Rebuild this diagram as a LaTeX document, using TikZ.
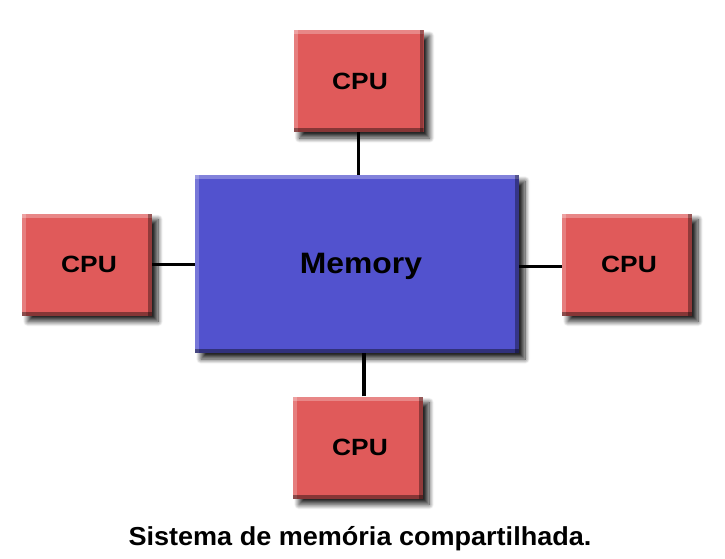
\documentclass[tikz,border=0pt]{standalone}
\usepackage{fontspec}
\setmainfont{Liberation Sans}
\usetikzlibrary{shadows.blur}
\definecolor{cpured}{HTML}{E05A5A}
\definecolor{memblue}{HTML}{5252CE}
\newcommand{\cpuword}{\scalebox{1.12}[1]{CPU}}
\tikzset{
  bevel/.style={path picture={
    \fill[white,opacity=0.28] (path picture bounding box.north west) rectangle ([yshift=-4pt]path picture bounding box.north east);
    \fill[white,opacity=0.22] (path picture bounding box.north west) rectangle ([xshift=4pt]path picture bounding box.south west);
    \fill[black,opacity=0.4] (path picture bounding box.south west) rectangle ([yshift=4pt]path picture bounding box.south east);
    \fill[black,opacity=0.35] (path picture bounding box.north east) rectangle ([xshift=-4pt]path picture bounding box.south east);
  }},
  box/.style={rectangle, inner sep=0pt, bevel,
    blur shadow={shadow xshift=6pt, shadow yshift=-6pt, shadow blur steps=10, shadow blur radius=5pt, shadow opacity=85}},
  cpubox/.style={box, fill=cpured, minimum width=130pt, minimum height=102pt},
  membox/.style={box, fill=memblue, minimum width=324pt, minimum height=178pt},
  cpulabel/.style={inner sep=0pt, font=\bfseries\fontsize{23.5}{28}\selectfont},
  memlabel/.style={inner sep=0pt, font=\bfseries\fontsize{29.5}{34}\selectfont},
  link/.style={line width=3.2pt, black},
  caption/.style={font=\bfseries\fontsize{26}{30}\selectfont, inner sep=0pt}
}
\begin{document}
\begin{tikzpicture}[x=1pt,y=-1pt]
\useasboundingbox (0,0) rectangle (725,558);
\node[membox] (mem) at (357,264) {};
\node[cpubox] (top) at (358.5,81) {};
\node[cpubox] (left) at (87,264.5) {};
\node[cpubox] (right) at (627,264.5) {};
\node[cpubox] (bot) at (358,447.5) {};
\draw[link] (top.south) -- (top.south |- mem.north);
\draw[link] ([xshift=6pt]bot.north) -- ([xshift=6pt]bot.north |- mem.south);
\draw[link] (left.east) -- (left.east -| mem.west);
\draw[link] ([yshift=-2pt]right.west) -- ([yshift=-2pt]right.west -| mem.east);
\node[memlabel, anchor=base] (memtext) at (361,273) {\scalebox{1.08}[1]{Memory}};
\node[cpulabel] (toptext) at ([xshift=1.5pt]top.center) {\cpuword};
\node[cpulabel] (lefttext) at ([xshift=2pt]left.center) {\cpuword};
\node[cpulabel] (righttext) at ([xshift=2pt]right.center) {\cpuword};
\node[cpulabel] (bottext) at ([xshift=2pt]bot.center) {\cpuword};
\node[caption, anchor=base] (cap) at (360,545) {\scalebox{1.04}[1]{Sistema de memória compartilhada.}};
\end{tikzpicture}
\end{document}
